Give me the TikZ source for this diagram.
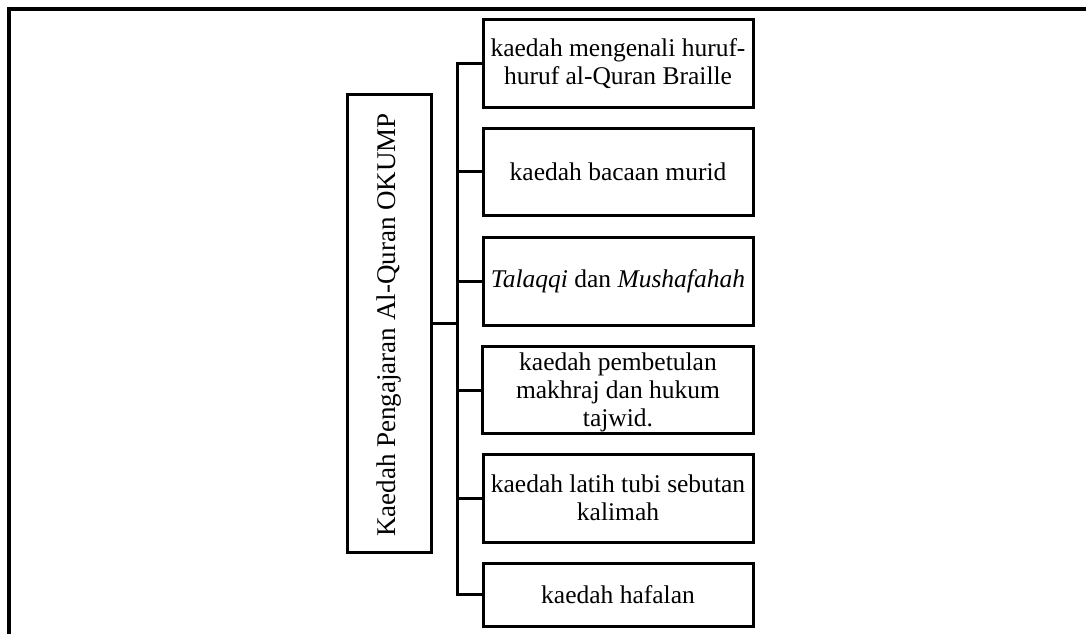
\documentclass[tikz,border=0pt]{standalone}
\usepackage{fontspec}
\setmainfont{Liberation Serif}
\begin{document}
\begin{tikzpicture}[x=1pt,y=-1pt,
  item/.style={draw,line width=3pt,minimum width=270pt,align=center,inner sep=0pt,
    font=\fontsize{25.5}{27.5}\selectfont},
  conn/.style={line width=3pt},
  frame/.style={line width=3.2pt}]
\useasboundingbox (0,0) rectangle (1086,634);
\draw[frame] (1086,9) -- (9,9) -- (9,634);
\node[draw,line width=3pt,minimum width=84pt,minimum height=458pt,inner sep=0pt] (m) at (389,323) {};
\node[rotate=90,font=\fontsize{27}{29}\selectfont] (mt) at (389,325) {Kaedah Pengajaran Al-Quran OKUMP};
\node[item,minimum height=87pt] (b1) at (618,63.5) {kaedah mengenali huruf-\\huruf al-Quran Braille};
\node[item,minimum height=87pt] (b2) at (618,171.5) {kaedah bacaan murid};
\node[item,minimum height=88pt] (b3) at (618,281) {\textit{Talaqqi} dan \textit{Mushafahah}};
\node[minimum width=270pt,minimum height=86pt,inner sep=0pt] (b4) at (618,390) {};
\node[font=\fontsize{25.5}{28}\selectfont,align=center] (b4t) at (618,392) {kaedah pembetulan\\makhraj dan hukum\\tajwid.};
\draw[line width=3pt] (b4.north west) rectangle (b4.south east);
\node[item,minimum height=88pt] (b5) at (618,498) {kaedah latih tubi sebutan\\kalimah};
\node[item,minimum height=63pt] (b6) at (618,594.5) {kaedah hafalan};
\coordinate (tr) at (457,0);
\draw[conn] (b1.west) -- (b1.west -| tr) -- (b6.west -| tr) -- (b6.west);
\foreach \b in {b2,b3,b4,b5} \draw[conn] (\b.west) -- (\b.west -| tr);
\draw[conn] (m.east) -- (m.east -| tr);
\end{tikzpicture}
\end{document}
